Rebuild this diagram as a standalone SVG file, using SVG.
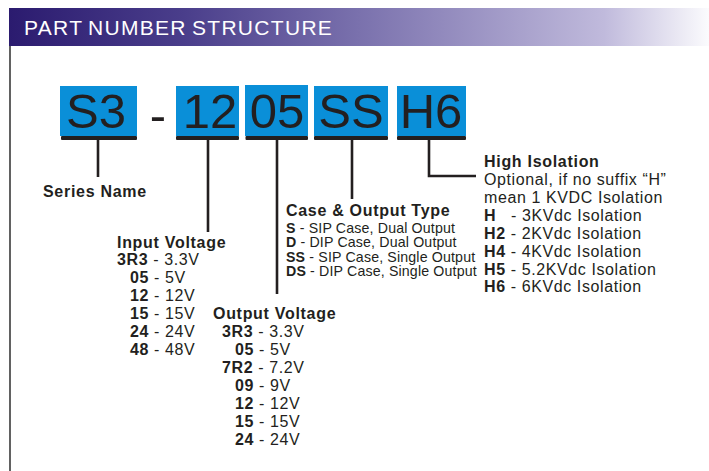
<svg xmlns="http://www.w3.org/2000/svg" width="709" height="471" viewBox="0 0 709 471">
<defs>
<linearGradient id="hdr" x1="0" y1="0" x2="1" y2="0">
<stop offset="0" stop-color="#2b1b6f"/>
<stop offset="0.25" stop-color="#4a3e8b"/>
<stop offset="0.5" stop-color="#7a71ad"/>
<stop offset="0.85" stop-color="#c0badc"/>
<stop offset="1" stop-color="#fbfbfd"/>
</linearGradient>
<style>
.box{fill:#0a8fd8}
.bar{fill:#231f20}
.big{font-family:"Liberation Sans",Arial,sans-serif;font-size:49px;fill:#231f20;text-anchor:middle}
.t{font-family:"Liberation Sans",Arial,sans-serif;fill:#231f20}
.h{font-size:16px;font-weight:bold;letter-spacing:0.7px}
.v{font-size:16px;letter-spacing:0.6px}
.b{font-weight:bold}
.s{font-size:14.2px;letter-spacing:0.15px}
.conn{stroke:#231f20;stroke-width:2.6;fill:none}
</style>
</defs>
<rect x="0" y="0" width="709" height="471" fill="#ffffff"/>
<g id="header">
<rect x="9" y="8" width="700" height="38" fill="url(#hdr)"/>
<text x="24" y="35" font-family="Liberation Sans, Arial, sans-serif" font-size="21" fill="#ffffff" letter-spacing="1.3" word-spacing="-2">PART NUMBER STRUCTURE</text>
<line x1="10" y1="46" x2="10" y2="471" stroke="#3a3a3a" stroke-width="1.6"/>
</g>
<g id="node-s3">
<rect class="box" x="60" y="86" width="77" height="50"/>
<rect class="bar" x="61" y="136" width="76" height="4" rx="1"/>
<text class="big" x="96" y="128">S3</text>
</g>
<g id="dash">
<text class="big" x="158" y="132">-</text>
</g>
<g id="node-12">
<rect class="box" x="176" y="86" width="63" height="50"/>
<rect class="bar" x="176" y="136" width="63" height="4" rx="1"/>
<text class="big" x="210" y="128">12</text>
</g>
<g id="node-05">
<rect class="box" x="245" y="85" width="63" height="51"/>
<rect class="bar" x="245.5" y="136" width="62.5" height="4" rx="1"/>
<text class="big" x="277" y="128">05</text>
</g>
<g id="node-ss">
<rect class="box" x="314" y="86" width="74" height="50"/>
<rect class="bar" x="314" y="136" width="74" height="4" rx="1"/>
<text class="big" x="351" y="128">SS</text>
</g>
<g id="node-h6">
<rect class="box" x="397" y="86" width="69" height="50"/>
<rect class="bar" x="397" y="136" width="69" height="4" rx="1"/>
<text class="big" x="431" y="128">H6</text>
</g>
<g id="connectors">
<path class="conn" d="M98,140 V177"/>
<path class="conn" d="M208,140 V232"/>
<path class="conn" d="M277,140 V294"/>
<path class="conn" d="M352,140 V199"/>
<path class="conn" d="M429,140 V176 H476"/>
</g>
<g id="series-name">
<text class="t h" x="43" y="197">Series Name</text>
</g>
<g id="input-voltage">
<text class="t h" x="117" y="248" letter-spacing="0.6">Input Voltage</text>
<text class="t v" x="117" y="265"><tspan class="b">3R3</tspan> - 3.3V</text>
<text class="t v" x="130" y="283"><tspan class="b">05</tspan> - 5V</text>
<text class="t v" x="130" y="301"><tspan class="b">12</tspan> - 12V</text>
<text class="t v" x="130" y="319"><tspan class="b">15</tspan> - 15V</text>
<text class="t v" x="130" y="337"><tspan class="b">24</tspan> - 24V</text>
<text class="t v" x="130" y="355"><tspan class="b">48</tspan> - 48V</text>
</g>
<g id="output-voltage">
<text class="t h" x="213" y="319">Output Voltage</text>
<text class="t v" x="222" y="337"><tspan class="b">3R3</tspan> - 3.3V</text>
<text class="t v" x="235" y="355"><tspan class="b">05</tspan> - 5V</text>
<text class="t v" x="222" y="373"><tspan class="b">7R2</tspan> - 7.2V</text>
<text class="t v" x="235" y="391"><tspan class="b">09</tspan> - 9V</text>
<text class="t v" x="235" y="409"><tspan class="b">12</tspan> - 12V</text>
<text class="t v" x="235" y="427"><tspan class="b">15</tspan> - 15V</text>
<text class="t v" x="235" y="445"><tspan class="b">24</tspan> - 24V</text>
</g>
<g id="case-output-type">
<text class="t h" x="286" y="216" letter-spacing="0.4">Case &amp; Output Type</text>
<text class="t s" x="286" y="232.5"><tspan class="b">S</tspan> - SIP Case, Dual Output</text>
<text class="t s" x="286" y="247"><tspan class="b">D</tspan> - DIP Case, Dual Output</text>
<text class="t s" x="286" y="261.5"><tspan class="b">SS</tspan> - SIP Case, Single Output</text>
<text class="t s" x="286" y="276"><tspan class="b">DS</tspan> - DIP Case, Single Output</text>
</g>
<g id="high-isolation">
<text class="t h" x="484" y="167">High Isolation</text>
<text class="t v" x="484" y="185" letter-spacing="0.7">Optional,  if no suffix “H”</text>
<text class="t v" x="484" y="203" letter-spacing="0.7">mean 1 KVDC Isolation</text>
<text class="t v" x="484" y="221" letter-spacing="0.7"><tspan class="b">H</tspan><tspan x="506"> - 3KVdc Isolation</tspan></text>
<text class="t v" x="484" y="239" letter-spacing="0.7"><tspan class="b">H2</tspan> - 2KVdc Isolation</text>
<text class="t v" x="484" y="256.5" letter-spacing="0.7"><tspan class="b">H4</tspan> - 4KVdc Isolation</text>
<text class="t v" x="484" y="274.5" letter-spacing="0.7"><tspan class="b">H5</tspan> - 5.2KVdc Isolation</text>
<text class="t v" x="484" y="292" letter-spacing="0.7"><tspan class="b">H6</tspan> - 6KVdc Isolation</text>
</g>
</svg>
